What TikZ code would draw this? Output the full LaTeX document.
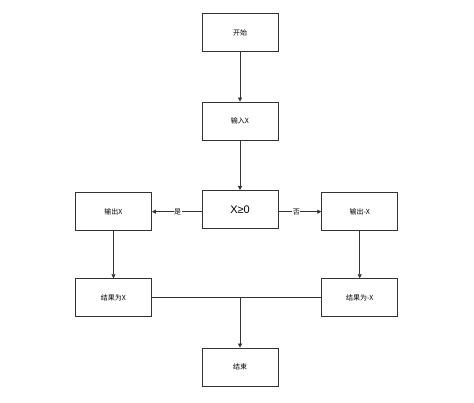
\documentclass[tikz,border=0pt]{standalone}
\usepackage{fontspec}
\setmainfont{Noto Sans CJK SC}
\newfontfamily\latinfont{Liberation Sans}
\usetikzlibrary{arrows.meta}
\begin{document}
\begin{tikzpicture}[x=1pt,y=-1pt,
  box/.style={draw=black!80, line width=0.8pt, minimum width=76pt, minimum height=38pt, inner sep=0pt, font=\fontsize{7}{8}\selectfont},
  conn/.style={draw=black!80, line width=0.8pt},
  arr/.style={conn, -{Triangle[length=4pt,width=4pt]}},
  lab/.style={fill=white, inner sep=0.5pt, font=\fontsize{7}{8}\selectfont}]
\useasboundingbox (0,0) rectangle (474,403);
\node[box] (start) at (240,32.5) {开始};
\node[box] (input) at (240,121) {输入X};
\node[box, font=\latinfont\fontsize{11}{12}\selectfont] (cond) at (240,209.5) {X≥0};
\node[box] (outL) at (113.5,211.7) {输出X};
\node[box] (outR) at (359.7,211.7) {输出-X};
\node[box] (resL) at (113.5,297.7) {结果为X};
\node[box] (resR) at (359.7,297.7) {结果为-X};
\node[box] (end) at (240,367) {结束};
\draw[arr] (start) -- (input);
\draw[arr] (input) -- (cond);
\draw[arr] (cond.west |- outL.east) -- node[lab, pos=0.48] {是} (outL.east);
\draw[arr] (cond.east |- outR.west) -- node[lab, pos=0.42] {否} (outR.west);
\draw[arr] (outL) -- (resL);
\draw[arr] (outR) -- (resR);
\draw[conn] (resL.east) -- (resR.west);
\coordinate (m) at (resL.east -| end.north);
\draw[arr] (m) -- (end.north);
\end{tikzpicture}
\end{document}
